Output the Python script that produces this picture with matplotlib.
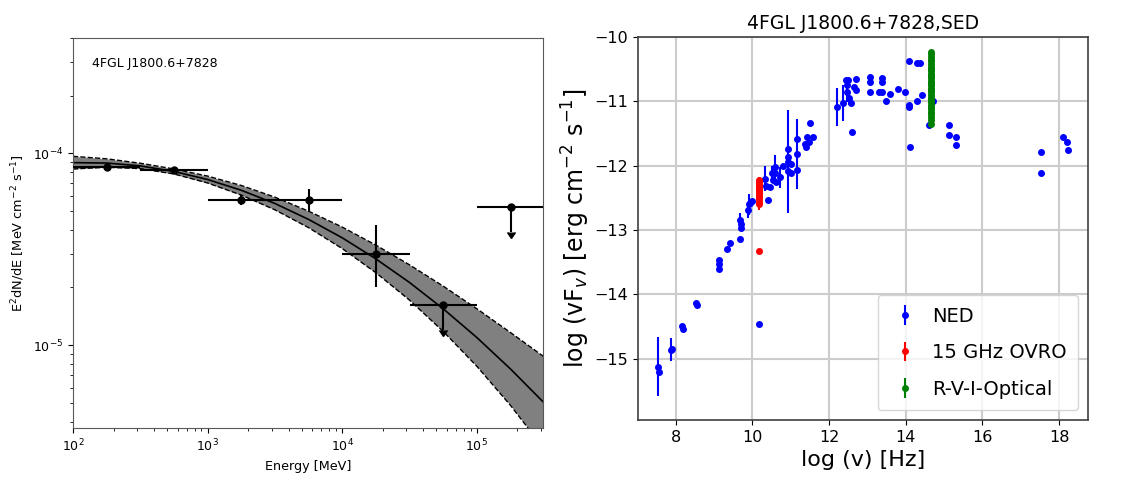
import numpy as np
import matplotlib
matplotlib.use("Agg")
import matplotlib.pyplot as plt

# ---------------- Left panel: Fermi-LAT SED ----------------
energy = [177.8, 562.3, 1778.0, 5623.0, 17783.0, 56234.0, 177828.0]
e_lo = [100.0, 316.2, 1000.0, 3162.0, 10000.0, 31623.0, 100000.0]
e_hi = [316.2, 1000.0, 3162.0, 10000.0, 31623.0, 100000.0, 316228.0]
flux = [8.5e-5, 8.15e-5, 5.75e-5, 5.7e-5, 3.0e-5, 1.62e-5, 5.25e-5]
flux_err_lo = [0.25e-5, 0.25e-5, 0.35e-5, 0.76e-5, 0.99e-5, 0.42e-5, 1.36e-5]
flux_err_hi = [0.25e-5, 0.25e-5, 0.30e-5, 0.85e-5, 1.21e-5, 0.0, 0.0]
upper_limit = [False, False, False, False, False, True, True]

model_logE = [2.0, 2.25, 2.5, 2.75, 3.0, 3.25, 3.5, 3.75, 4.0, 4.25, 4.5, 4.75, 5.0, 5.25, 5.5]
model_logF = [-4.048, -4.050, -4.065, -4.094, -4.136, -4.192, -4.261, -4.344,
              -4.440, -4.550, -4.673, -4.810, -4.960, -5.124, -5.301]
model_logF_hi = [-4.015, -4.028, -4.051, -4.081, -4.118, -4.167, -4.228, -4.301,
                 -4.384, -4.478, -4.581, -4.692, -4.810, -4.934, -5.061]
model_logF_lo = [-4.081, -4.072, -4.079, -4.107, -4.154, -4.217, -4.294, -4.387,
                 -4.496, -4.622, -4.765, -4.928, -5.110, -5.314, -5.541]

# ---------------- Right panel: broadband SED ----------------
ned_x = [7.55, 7.57, 7.88, 7.90, 8.17, 8.19, 8.54, 8.56, 9.13, 9.14, 9.14, 9.35, 9.42,
         9.68, 9.68, 9.69, 9.70, 9.88, 9.90, 9.93, 9.99, 10.16, 10.33, 10.35, 10.40, 10.46,
         10.52, 10.53, 10.58, 10.60, 10.62, 10.73, 10.79, 10.92, 10.93, 10.93, 10.94,
         11.00, 11.00, 11.17, 11.17, 11.17, 11.38, 11.40, 11.42, 11.47, 11.51, 11.58,
         12.20, 12.37, 12.45, 12.46, 12.47, 12.50, 12.52, 12.56, 12.59, 12.65, 12.70,
         12.71, 13.08, 13.08, 13.08, 13.30, 13.38, 13.38, 13.39, 13.49, 13.60, 13.80,
         13.98, 14.09, 14.09, 14.09, 14.10, 14.29, 14.38, 14.29, 14.42, 14.60, 14.71,
         15.12, 15.12, 15.30, 15.30, 17.52, 17.52, 18.10, 18.20, 18.22]
ned_y = [-15.12, -15.20, -14.86, -14.84, -14.49, -14.53, -14.13, -14.17, -13.47, -13.53,
         -13.60, -13.30, -13.20, -13.14, -12.84, -12.90, -12.96, -12.69, -12.60, -12.58,
         -12.55, -14.46, -12.20, -12.32, -12.54, -12.33, -12.12, -12.22, -12.02, -12.12,
         -12.25, -12.18, -12.00, -11.94, -11.74, -11.86, -12.08, -11.98, -12.12, -11.82,
         -11.58, -12.07, -11.67, -11.71, -11.56, -11.63, -11.34, -11.55,
         -11.09, -11.02, -10.67, -10.75, -10.85, -10.67, -10.95, -11.03, -11.48, -10.78,
         -10.66, -10.82, -10.62, -10.70, -10.86, -10.85, -10.64, -10.70, -10.86, -11.00,
         -10.88, -10.81, -10.85, -10.37, -11.05, -11.09, -11.71, -10.41, -10.41, -11.00,
         -10.90, -11.37, -11.00, -11.37, -11.52, -11.56, -11.68, -11.79, -12.11, -11.55,
         -11.63, -11.76]
ned_err = [0.46, 0.0, 0.18, 0.0, 0.0, 0.0, 0.0, 0.0, 0.0, 0.0, 0.0, 0.0, 0.0,
           0.0, 0.10, 0.0, 0.0, 0.12, 0.16, 0.0, 0.0, 0.0, 0.20, 0.0, 0.0, 0.0,
           0.12, 0.0, 0.18, 0.0, 0.0, 0.16, 0.0, 0.80, 0.0, 0.0, 0.0,
           0.0, 0.0, 0.54, 0.0, 0.0, 0.0, 0.0, 0.0, 0.0, 0.0, 0.0,
           0.29, 0.28, 0.0, 0.0, 0.16, 0.0, 0.10, 0.0, 0.0, 0.0, 0.0,
           0.0, 0.0, 0.0, 0.0, 0.0, 0.0, 0.0, 0.0, 0.0, 0.0, 0.0,
           0.0, 0.0, 0.0, 0.0, 0.0, 0.0, 0.0, 0.0, 0.0, 0.0, 0.0,
           0.0, 0.0, 0.0, 0.0, 0.0, 0.0, 0.0, 0.0, 0.0]

ovro_x = [10.18] * 15
ovro_y = [-12.22, -12.26, -12.29, -12.31, -12.34, -12.36, -12.38, -12.40, -12.42,
          -12.45, -12.48, -12.52, -12.56, -12.60, -13.32]
ovro_err = [0.04, 0.04, 0.04, 0.05, 0.04, 0.04, 0.05, 0.04, 0.04, 0.05, 0.05, 0.05,
            0.06, 0.08, 0.02]

opt_x = [14.65] * 30
opt_y = [-10.24, -10.27, -10.31, -10.35, -10.38, -10.42, -10.46, -10.49, -10.53,
         -10.57, -10.61, -10.64, -10.68, -10.72, -10.75, -10.79, -10.83, -10.86,
         -10.90, -10.94, -10.97, -11.01, -11.05, -11.09, -11.12, -11.16, -11.20,
         -11.24, -11.29, -11.35]
opt_err = [0.03] * 30

fig = plt.figure(figsize=(11.26, 4.82), dpi=100)

# ---- left axes ----
ax1 = fig.add_axes([73 / 1126, 54 / 482, 470 / 1126, 390 / 482])
E_model = 10 ** np.array(model_logE)
F_c = 10 ** np.array(model_logF)
F_h = 10 ** np.array(model_logF_hi)
F_l = 10 ** np.array(model_logF_lo)
ax1.fill_between(E_model, F_l, F_h, color='0.5', lw=0, zorder=1)
ax1.plot(E_model, F_h, 'k--', lw=1.0, zorder=2)
ax1.plot(E_model, F_l, 'k--', lw=1.0, zorder=2)
ax1.plot(E_model, F_c, 'k-', lw=1.2, zorder=2)

E = np.array(energy)
xerr = [E - np.array(e_lo), np.array(e_hi) - E]
yerr = [np.array(flux_err_lo), np.array(flux_err_hi)]
ax1.errorbar(E, flux, xerr=xerr, yerr=yerr, uplims=upper_limit, fmt='o',
             color='k', ms=5, elinewidth=1.5, zorder=3)
ax1.set_xscale('log')
ax1.set_yscale('log')
ax1.set_xlim(100, 3.1e5)
ax1.set_ylim(3.7e-6, 4.0e-4)
ax1.set_xlabel('Energy [MeV]', fontsize=9.2)
ax1.set_ylabel(r'E$^2$dN/dE [MeV cm$^{-2}$ s$^{-1}$]', fontsize=9.3)
ax1.tick_params(labelsize=9)
ax1.text(0.04, 0.95, '4FGL J1800.6+7828', transform=ax1.transAxes,
         fontsize=9, va='top', ha='left')
for s in ax1.spines.values():
    s.set_color('0.35')

# ---- right axes ----
ax2 = fig.add_axes([638 / 1126, 62 / 482, 450 / 1126, 383 / 482])
ax2.errorbar(ned_x, ned_y, yerr=ned_err, fmt='o', color='blue', ms=4,
             elinewidth=1.5, label='NED', zorder=3)
ax2.errorbar(ovro_x, ovro_y, yerr=ovro_err, fmt='o', color='red', ms=4,
             elinewidth=1.5, label='15 GHz OVRO', zorder=4)
ax2.errorbar(opt_x, opt_y, yerr=opt_err, fmt='o', color='green', ms=4,
             elinewidth=1.5, label='R-V-I-Optical', zorder=5)
ax2.set_ylim(-15.95, -10)
ax2.set_yticks([-15, -14, -13, -12, -11, -10])
ax2.set_xticks([8, 10, 12, 14, 16, 18])
ax2.grid(True, color='0.8', lw=1.5)
ax2.set_axisbelow(True)
ax2.tick_params(labelsize=11.5)
ax2.set_xlabel('log (v) [Hz]', fontsize=16)
ax2.set_ylabel(r'log (vF$_v$) [erg cm$^{-2}$ s$^{-1}$]', fontsize=17, labelpad=2)
ax2.set_title('4FGL J1800.6+7828,SED', fontsize=13.5)
for s in ax2.spines.values():
    s.set_color('0.25')
    s.set_linewidth(1.2)
ax2.legend(loc='lower right', fontsize=14, labelspacing=0.9, borderpad=0.6,
           handlelength=1.6, handletextpad=0.6)

fig.savefig('out.png', dpi=100)
